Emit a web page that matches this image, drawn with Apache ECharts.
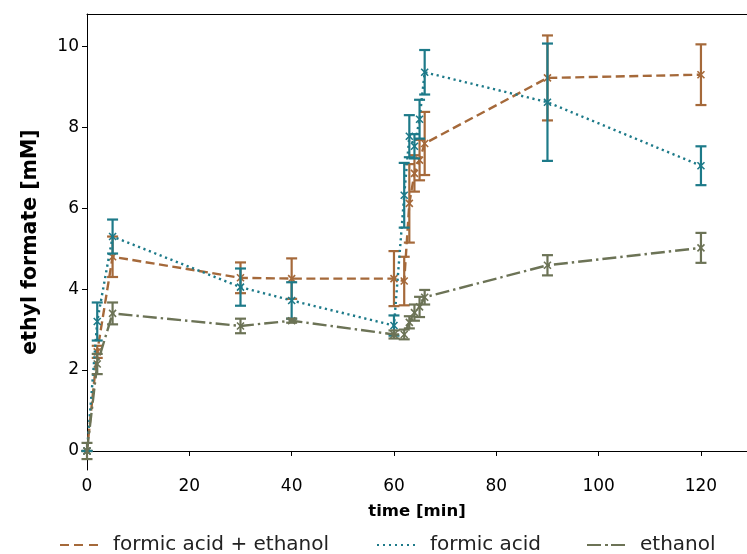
<!DOCTYPE html>
<html>
<head>
<meta charset="utf-8">
<script src="https://cdn.jsdelivr.net/npm/echarts@6/dist/echarts.min.js"></script>
<style>
  html, body { margin: 0; padding: 0; background: #fff; }
  #chart { width: 747px; height: 554px; }
</style>
</head>
<body>
<div id="chart"></div>
<script>
// sampling times [min]
const times = [0, 2, 5, 30, 40, 60, 62, 63, 64, 65, 66, 90, 120];

// ethyl formate [mM] and error per series
const faEthanol = [0, 2.45, 4.8, 4.28, 4.26, 4.26, 4.2, 6.12, 6.86, 7.19, 7.6, 9.22, 9.3];
const faEthanolErr = [0, 0.15, 0.5, 0.38, 0.5, 0.68, 0.6, 0.97, 0.45, 0.5, 0.78, 1.05, 0.75];

const formicAcid = [0, 3.2, 5.3, 4.05, 3.72, 3.1, 6.32, 7.78, 7.53, 8.2, 9.36, 8.62, 7.05];
const formicAcidErr = [0, 0.47, 0.42, 0.46, 0.45, 0.25, 0.8, 0.52, 0.3, 0.48, 0.55, 1.45, 0.48];

const ethanol = [0, 2.15, 3.4, 3.09, 3.22, 2.88, 2.88, 3.18, 3.42, 3.56, 3.8, 4.59, 5.02];
const ethanolErr = [0.2, 0.25, 0.27, 0.18, 0.05, 0.1, 0.12, 0.15, 0.2, 0.25, 0.18, 0.25, 0.37];

const xTicks = [0, 20, 40, 60, 80, 100, 120];
const yTicks = [0, 2, 4, 6, 8, 10];

const C_ORANGE = "#a5693a";
const C_TEAL = "#1d7a89";
const C_OLIVE = "#6c7356";

const FONT = "DejaVu Sans";
const xMarker = "path://M0,0L10,10M10,0L0,10";

const chart = echarts.init(document.getElementById("chart"));

function pairs(vals) {
  return times.map((t, i) => [t, vals[i]]);
}
function errs(vals, e) {
  return times.map((t, i) => [t, vals[i] - e[i], vals[i] + e[i]]);
}

function errorSeries(name, vals, e, color, z) {
  return {
    name: name,
    type: "custom",
    z: z,
    silent: true,
    data: errs(vals, e),
    renderItem: function (params, api) {
      const x = api.value(0);
      const lo = api.coord([x, api.value(1)]);
      const hi = api.coord([x, api.value(2)]);
      const hw = 5.5;
      const st = { stroke: color, lineWidth: 2.2 };
      return {
        type: "group",
        children: [
          { type: "line", shape: { x1: lo[0], y1: lo[1], x2: hi[0], y2: hi[1] }, style: st },
          { type: "line", shape: { x1: lo[0] - hw, y1: lo[1], x2: lo[0] + hw, y2: lo[1] }, style: st },
          { type: "line", shape: { x1: hi[0] - hw, y1: hi[1], x2: hi[0] + hw, y2: hi[1] }, style: st },
        ],
      };
    },
  };
}

function lineSeries(name, vals, color, dash, z) {
  return {
    name: name,
    type: "line",
    z: z,
    data: pairs(vals),
    symbol: xMarker,
    symbolSize: 7,
    showAllSymbol: true,
    itemStyle: { color: color, borderColor: color, borderWidth: 1.6 },
    lineStyle: { color: color, width: 2.4, type: dash },
    emphasis: { disabled: true },
  };
}

// legend icons (drawn as short strokes, 38 x 2)
const iconDash = "path://M0,0h9v2h-9zM14,0h9v2h-9zM29,0h9v2h-9z";
const iconDot = "path://M0,0h2v2h-2zM6,0h2v2h-2zM12,0h2v2h-2zM18,0h2v2h-2zM24,0h2v2h-2zM30,0h2v2h-2zM36,0h2v2h-2z";
const iconDashDot = "path://M0,0h14v2h-14zM18,0h3v2h-3zM24,0h14v2h-14z";

function legendAt(name, icon, color, left) {
  return {
    data: [{ name: name, icon: icon, itemStyle: { color: color } }],
    left: left,
    top: 535,
    itemWidth: 38,
    itemHeight: 2,
    itemGap: 0,
    padding: 0,
    selectedMode: false,
    textStyle: { fontFamily: FONT, fontSize: 20, color: "#222", padding: [0, 0, 0, 10] },
  };
}

const option = {
  animation: false,
  backgroundColor: "#fff",
  grid: { left: 87, right: -2, top: 14, bottom: 84, containLabel: false },
  legend: [
    legendAt("formic acid + ethanol", iconDash, C_ORANGE, 60),
    legendAt("formic acid", iconDot, C_TEAL, 377),
    legendAt("ethanol", iconDashDot, C_OLIVE, 587),
  ],
  xAxis: [
    {
      type: "value",
      min: 0,
      max: 129,
      name: "time [min]",
      nameLocation: "middle",
      nameGap: 33,
      nameTextStyle: { fontFamily: FONT, fontSize: 16.5, fontWeight: "bold", color: "#000" },
      axisLine: { show: true, lineStyle: { color: "#000", width: 1 } },
      axisTick: { show: true, length: 5, customValues: xTicks, lineStyle: { color: "#000" } },
      axisLabel: { customValues: xTicks, fontFamily: FONT, fontSize: 17, color: "#000", margin: 8 },
      splitLine: { show: false },
    },
    {
      type: "value",
      position: "top",
      min: 0,
      max: 129,
      axisLine: { show: true, onZero: false, lineStyle: { color: "#000", width: 1 } },
      axisTick: { show: false },
      axisLabel: { show: false },
      splitLine: { show: false },
    },
  ],
  yAxis: {
    type: "value",
    min: -0.47,
    max: 10.8,
    name: "ethyl formate [mM]",
    nameLocation: "middle",
    nameGap: 46,
    nameTextStyle: { fontFamily: FONT, fontSize: 20.5, fontWeight: "bold", color: "#000" },
    axisLine: { show: true, onZero: false, lineStyle: { color: "#000", width: 1 } },
    axisTick: { show: true, length: 5, customValues: yTicks, lineStyle: { color: "#000" } },
    axisLabel: { customValues: yTicks, fontFamily: FONT, fontSize: 17, color: "#000", margin: 8 },
    splitLine: { show: false },
  },
  series: [
    errorSeries("formic acid + ethanol", faEthanol, faEthanolErr, C_ORANGE, 2),
    lineSeries("formic acid + ethanol", faEthanol, C_ORANGE, [9, 4.5], 3),
    errorSeries("formic acid", formicAcid, formicAcidErr, C_TEAL, 4),
    lineSeries("formic acid", formicAcid, C_TEAL, [2.2, 3.6], 5),
    errorSeries("ethanol", ethanol, ethanolErr, C_OLIVE, 6),
    lineSeries("ethanol", ethanol, C_OLIVE, [14, 4, 2.4, 4], 7),
  ],
};

chart.setOption(option);
</script>
</body>
</html>
